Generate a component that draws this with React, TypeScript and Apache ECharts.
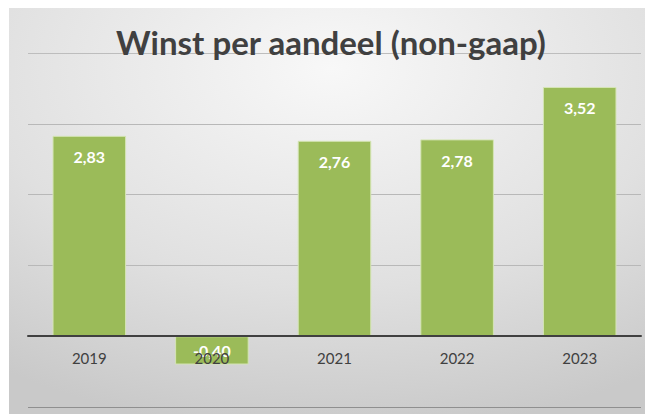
import React, { useEffect, useRef } from "react";
import * as echarts from "echarts";

const titleText = "Winst per aandeel (non-gaap)";
const years = ["2019", "2020", "2021", "2022", "2023"];
const eps = [2.83, -0.4, 2.76, 2.78, 3.52];

export default function App() {
  const ref = useRef<HTMLDivElement>(null);
  useEffect(() => {
    if (!ref.current) return;
    const chart = echarts.init(ref.current, null, { renderer: "svg" });
    chart.setOption({
      animation: false,
      backgroundColor: {
        type: "radial",
        x: 0.5,
        y: 0.15,
        r: 0.9,
        colorStops: [
          { offset: 0, color: "#f8f8f8" },
          { offset: 0.6, color: "#e0e0e0" },
          { offset: 1, color: "#c9c9c9" },
        ],
      },
      title: {
        text: titleText,
        left: "center",
        top: 12,
        padding: [5, 5, 5, 17],
        textStyle: {
          fontFamily: "Lato",
          fontWeight: "bold",
          fontSize: 33,
          color: "#404040",
        },
      },
      grid: {
        left: 19,
        right: 12,
        top: 45,
        bottom: 7,
        containLabel: false,
        outerBoundsMode: "none",
      },
      xAxis: {
        type: "category",
        data: years,
        z: 3,
        axisTick: { show: false },
        axisLine: { onZero: true, lineStyle: { color: "#404040", width: 2 } },
        axisLabel: {
          margin: -57,
          fontFamily: "Lato",
          fontSize: 15,
          color: "#404040",
        },
      },
      yAxis: {
        type: "value",
        min: -1,
        max: 4,
        interval: 1,
        axisLabel: { show: false },
        axisLine: { show: false },
        axisTick: { show: false },
        splitLine: {
          lineStyle: {
            color: ["#8f8f8f", "#b8b8b8", "#b8b8b8", "#b8b8b8", "#b8b8b8", "#bdbdbd"],
            width: 1,
          },
        },
      },
      series: [
        {
          type: "bar",
          barCategoryGap: "40%",
          data: eps.map((v) =>
            v < 0
              ? { value: v, label: { position: "inside" } }
              : { value: v }
          ),
          itemStyle: {
            color: "#9bbb59",
            borderColor: "#d5e5b5",
            borderWidth: 1,
          },
          label: {
            show: true,
            position: "insideTop",
            distance: 13,
            color: "#ffffff",
            fontFamily: "Lato",
            fontWeight: "bold",
            fontSize: 16,
            formatter: (p: any) => p.value.toFixed(2).replace(".", ","),
          },
        },
      ],
    });
    return () => chart.dispose();
  }, []);
  return <div ref={ref} style={{ width: 644, height: 406, marginLeft: 1 }} />;
}
